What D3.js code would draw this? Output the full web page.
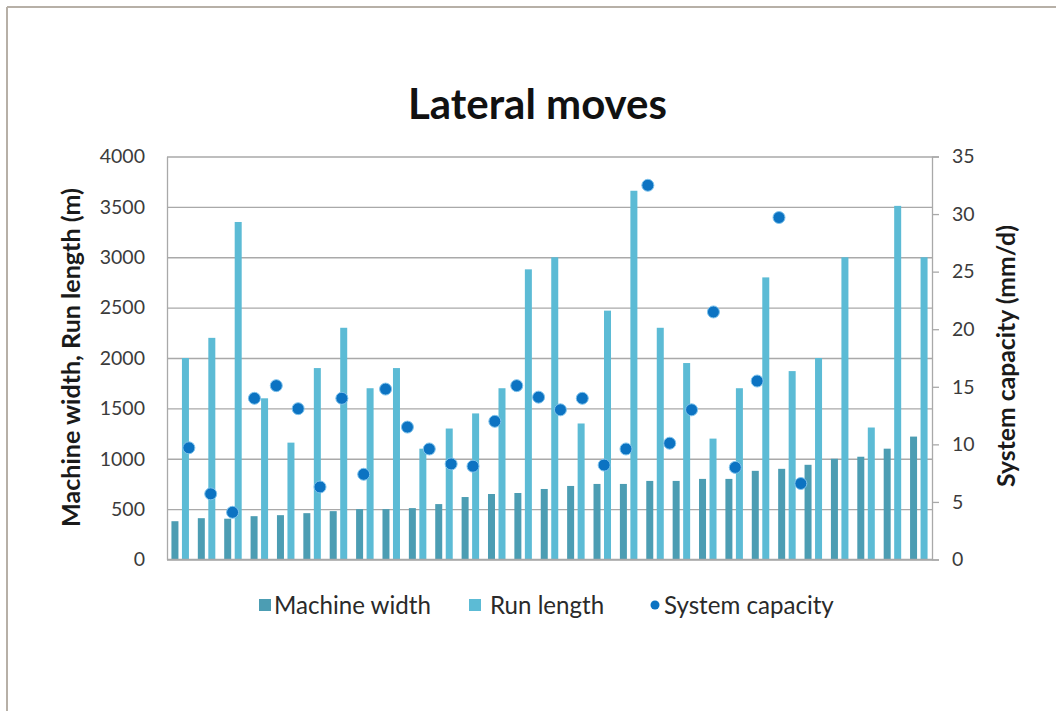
<!DOCTYPE html>
<html>
<head>
<meta charset="utf-8">
<script src="https://cdn.jsdelivr.net/npm/d3@7/dist/d3.min.js"></script>
<style>
  html, body { margin: 0; padding: 0; background: #fff; }
  svg { display: block; }
  text { font-family: Lato, "Open Sans", sans-serif; }
</style>
</head>
<body>
<svg id="chart" width="1056" height="711"></svg>
<script>
// ---- data ----
const categories = ["1","2","3","4","5","6","7","8","9","10","11","12","13","14","15",
                    "16","17","18","19","20","21","22","23","24","25","26","27","28","29"];
const machineWidth = [380, 410, 405, 430, 440, 460, 480, 500, 500, 510, 550, 620, 650, 660, 700,
                      730, 750, 750, 780, 780, 800, 800, 880, 900, 940, 1000, 1020, 1100, 1220];
const runLength = [2000, 2200, 3350, 1600, 1160, 1900, 2300, 1700, 1900, 1100, 1300, 1450, 1700, 2880, 3000,
                   1350, 2470, 3660, 2300, 1950, 1200, 1700, 2800, 1870, 2000, 3000, 1310, 3510, 3000];
const systemCapacity = [9.7, 5.7, 4.1, 14.0, 15.1, 13.1, 6.3, 14.0, 7.4, 14.8, 11.5, 9.6, 8.3, 8.1, 12.0,
                        15.1, 14.1, 13.0, 14.0, 8.2, 9.6, 32.5, 10.1, 13.0, 21.5, 8.0, 15.5, 29.7, 6.6];
const leftTicks = [0, 500, 1000, 1500, 2000, 2500, 3000, 3500, 4000];
const rightTicks = [0, 5, 10, 15, 20, 25, 30, 35];
const seriesNames = ["Machine width", "Run length", "System capacity"];

// ---- layout ----
const svg = d3.select("#chart");
const X0 = 167, X1 = 932, Y0 = 156.5, Y1 = 559.5;
const colMW = "#4c9db3", colRL = "#5cbbd5", colDot = "#0c73c2";
const gridCol = "#a9a9a9";

// scale a text element's font so that its length matches a target
function fit(sel, target) {
  const len = sel.node().getComputedTextLength();
  const fs = parseFloat(sel.style("font-size"));
  sel.style("font-size", (fs * target / len) + "px");
  return fs * target / len;
}

// frame
svg.append("line").attr("x1", 7).attr("x2", 1056).attr("y1", 7).attr("y2", 7)
   .attr("stroke", "#b7b0a7").attr("stroke-width", 2);
svg.append("line").attr("x1", 7).attr("x2", 7).attr("y1", 7).attr("y2", 711)
   .attr("stroke", "#b7b0a7").attr("stroke-width", 2);

const x = d3.scaleBand().domain(categories).range([X0, X1]).paddingInner(0).paddingOuter(0);
const xs = d3.scaleBand().domain(["mw", "rl"]).range([0, x.bandwidth()])
             .paddingInner(0.333).paddingOuter(0.423);
const xDot = d3.scaleLinear().domain([0, 35]).range([X0, X1]);
const yL = d3.scaleLinear().domain([0, 4000]).range([Y1, Y0]);
const yR = d3.scaleLinear().domain([0, 35]).range([Y1, Y0]);

// gridlines
svg.append("g")
  .attr("transform", `translate(${X0},0)`)
  .call(d3.axisLeft(yL).tickValues(leftTicks).tickSize(-(X1 - X0)).tickFormat(""))
  .call(g => g.select(".domain").remove())
  .call(g => g.selectAll(".tick line").attr("stroke", gridCol).attr("stroke-width", 1.3));

// bars
const gBars = svg.append("g");
gBars.selectAll("rect.mw").data(categories).join("rect")
  .attr("class", "mw")
  .attr("x", (d) => x(d) + xs("mw"))
  .attr("width", xs.bandwidth())
  .attr("y", (d, i) => yL(machineWidth[i]))
  .attr("height", (d, i) => yL(0) - yL(machineWidth[i]))
  .attr("fill", colMW);
gBars.selectAll("rect.rl").data(categories).join("rect")
  .attr("class", "rl")
  .attr("x", (d) => x(d) + xs("rl"))
  .attr("width", xs.bandwidth())
  .attr("y", (d, i) => yL(runLength[i]))
  .attr("height", (d, i) => yL(0) - yL(runLength[i]))
  .attr("fill", colRL);

// bottom axis line
svg.append("line").attr("x1", X0).attr("x2", X1).attr("y1", Y1).attr("y2", Y1)
   .attr("stroke", gridCol).attr("stroke-width", 1.3);

// left axis
svg.append("g")
  .attr("transform", `translate(${X0},0)`)
  .call(d3.axisLeft(yL).tickValues(leftTicks).tickFormat(d3.format("d")).tickSize(0).tickPadding(22))
  .call(g => g.select(".domain").attr("stroke", gridCol).attr("stroke-width", 1.3))
  .call(g => g.selectAll("text").attr("fill", "#3b3b3b")
             .style("font-size", "19.5px").style("font-family", "Lato, sans-serif"));

// right axis
svg.append("g")
  .attr("transform", `translate(${X1},0)`)
  .call(d3.axisRight(yR).tickValues(rightTicks).tickFormat(d3.format("d")).tickSize(7).tickPadding(13))
  .call(g => g.select(".domain").attr("stroke", gridCol).attr("stroke-width", 1.3))
  .call(g => g.selectAll(".tick line").attr("stroke", gridCol).attr("stroke-width", 1.3))
  .call(g => g.selectAll("text").attr("fill", "#3b3b3b")
             .style("font-size", "19.5px").style("font-family", "Lato, sans-serif"));

// dots
svg.append("g").selectAll("circle").data(systemCapacity).join("circle")
  .attr("cx", (d, i) => xDot(i + 1))
  .attr("cy", d => yR(d))
  .attr("r", 6)
  .attr("fill", colDot)
  .attr("stroke", "#7fc3ec")
  .attr("stroke-width", 1);

// title
const title = svg.append("text").attr("x", 537.5).attr("y", 119).attr("text-anchor", "middle")
  .style("font-size", "36px").style("font-weight", "700").attr("fill", "#111")
  .text("Lateral moves");
fit(title, 259);

// axis titles
const tL = svg.append("text").attr("transform", "translate(80,357.5) rotate(-90)")
  .attr("text-anchor", "middle").style("font-size", "20px").style("font-weight", "700")
  .attr("fill", "#1a1a1a").text("Machine width, Run length (m)");
fit(tL, 339);
const tR = svg.append("text").attr("transform", "translate(1015,356) rotate(-90)")
  .attr("text-anchor", "middle").style("font-size", "20px").style("font-weight", "700")
  .attr("fill", "#1a1a1a").text("System capacity (mm/d)");
fit(tR, 262);

// legend
const lg = svg.append("g").attr("fill", "#2a2a2a");
const l1 = lg.append("text").attr("x", 274).attr("y", 614).style("font-size", "20px").text(seriesNames[0]);
const lfs = fit(l1, 157);
lg.append("rect").attr("x", 259).attr("y", 599).attr("width", 12).attr("height", 12).attr("fill", colMW);
lg.append("rect").attr("x", 469).attr("y", 599).attr("width", 12).attr("height", 12).attr("fill", colRL);
lg.append("text").attr("x", 490).attr("y", 614).style("font-size", lfs + "px").text(seriesNames[1]);
lg.append("circle").attr("cx", 655).attr("cy", 605).attr("r", 4.5).attr("fill", colDot);
lg.append("text").attr("x", 664).attr("y", 614).style("font-size", lfs + "px").text(seriesNames[2]);
</script>
</body>
</html>
